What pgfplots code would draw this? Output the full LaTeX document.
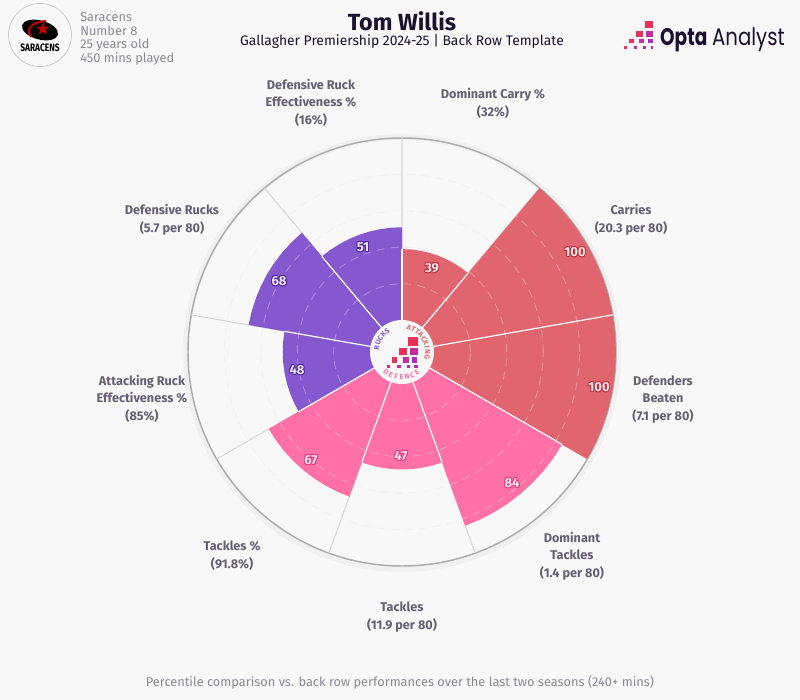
\documentclass[border=0pt]{standalone}
\usepackage{fontspec}
\usepackage{pgfplots}
\usepackage{pgfplotstable}
\pgfplotsset{compat=1.18}
\usepgfplotslibrary{polar}
\usetikzlibrary{shapes.geometric}
\setmainfont{Fira Sans}
\newfontfamily\logofont{Poppins}
\definecolor{bg}{HTML}{F8F8F8}
\definecolor{atk}{HTML}{E0656F}
\definecolor{ruck}{HTML}{8658CF}
\definecolor{def}{HTML}{FF70A6}
\definecolor{atkd}{HTML}{BE2F40}
\definecolor{ruckd}{HTML}{52279E}
\definecolor{defd}{HTML}{DD3A7E}
\definecolor{ink}{HTML}{1B102F}
\definecolor{lab}{HTML}{655F72}
\definecolor{sub}{HTML}{8C8896}
\definecolor{pa}{HTML}{E8305A}
\definecolor{pb}{HTML}{C62CA0}
\definecolor{pc}{HTML}{A82EC8}
% sweep of one slice: t = degrees from its start, f = 1 on the arc, 0 at the centre
\pgfplotstableread{
t f
0 0
0 1
5 1
10 1
15 1
20 1
25 1
30 1
35 1
40 1
40 0
}\steps
% percentile 0 sits on the edge of the centre disc, hence +17.5 on the radius
\newcommand{\slice}[3]{\addplot[fill=#3,draw=none] table[x expr=#1-\thisrow{t},y expr=\thisrow{f}*(#2+17.5)] {\steps};}
\newcommand{\sep}[2]{\addplot[white,line width=0.9pt] coordinates {(#1,0) (#1,#2+17.5)};}
\newcommand{\sz}[1]{\fontsize{#1}{#1}\selectfont}
% #1,#2 = baseline of the last line
\newcommand{\metric}[3]{\node[align=center,text=lab,font=\fontsize{9.5}{13}\selectfont\bfseries,inner sep=0pt,anchor=base] at (#1,#2) {#3};}
\newcommand{\val}[4]{%
  \foreach \dx/\dy in {-.9/0,.9/0,0/-.9,0/.9,-.7/-.7,.7/-.7,-.7/.7,.7/.7}
    \node[text=#4,font=\sz{9.8}\bfseries,inner sep=0pt] at (#1+\dx,#2+\dy) {#3};
  \node[text=white!88!#4,font=\sz{9.8}\bfseries,inner sep=0pt] at (#1,#2) {#3};}
\newcommand{\px}[5]{\fill[#5] (#1,#2) rectangle (#3,#4);}
\pgfplotsset{chart/.style={
  at={(301.5pt,-264pt)},anchor=center,scale only axis,width=321pt,height=321pt,
  xmin=0,xmax=360,ymin=0,ymax=117.5,clip=false,
  axis line style={draw=none},major tick length=0pt,
  xticklabels=\empty,yticklabels=\empty,
  ytick={37.5,57.5,77.5,97.5},ymajorgrids}}
\begin{document}
\begin{tikzpicture}[x=0.75pt,y=-0.75pt]
\useasboundingbox (0,0) rectangle (800,700);
\fill[bg] (0,0) rectangle (800,700);
% outer ring
\draw[line width=4.5pt,black!6] (402,353) circle[radius=216];
\draw[line width=1.1pt,black!32] (402,352) circle[radius=214];
\begin{polaraxis}[chart,
  xtick={10,50,90,130,170,210,250,290,330},xmajorgrids,
  x grid style={black!16,line width=0.8pt},
  y grid style={black!7,line width=0.6pt,dash pattern=on 6pt off 4.5pt}]
\end{polaraxis}
\begin{polaraxis}[chart,axis on top,xtick=\empty,
  y grid style={white,opacity=0.3,line width=0.7pt,dash pattern=on 6pt off 4.5pt}]
\slice{90}{39}{atk}
\slice{50}{100}{atk}
\slice{370}{100}{atk}
\slice{330}{84}{def}
\slice{290}{47}{def}
\slice{250}{67}{def}
\slice{210}{48}{ruck}
\slice{170}{68}{ruck}
\slice{130}{51}{ruck}
\sep{90}{39}\sep{50}{39}\sep{10}{100}\sep{330}{84}\sep{290}{47}
\sep{250}{47}\sep{210}{48}\sep{170}{48}\sep{130}{51}
\end{polaraxis}
% centre disc
\fill[bg] (402,352) circle[radius=32];
\foreach \c/\a in {R/170,U/159,C/148,K/137,S/126}
  \node[text=ruck,font=\sz{5.4}\bfseries,inner sep=0pt,rotate=\a-90] at ({402+25.5*cos(\a)},{352-25.5*sin(\a)}) {\c};
\foreach \c/\a in {A/74,T/63.4,T/52.8,A/42.2,C/31.6,K/21,I/10.4,N/-0.2,G/-10.8}
  \node[text=atk,font=\sz{5.4}\bfseries,inner sep=0pt,rotate=\a-90] at ({402+25.5*cos(\a)},{352-25.5*sin(\a)}) {\c};
\foreach \c/\a in {D/232,E/244.3,F/256.6,E/269,N/281.4,C/293.7,E/306}
  \node[text=def,font=\sz{5.4}\bfseries,inner sep=0pt,rotate=\a+90] at ({402+25.5*cos(\a)},{352-25.5*sin(\a)}) {\c};
\px{408.3}{336.7}{417.7}{345.7}{pa}
\px{399.3}{348.3}{407.3}{355}{pa}
\px{410}{348.3}{417.7}{355}{pb}
\px{391.7}{357.3}{397.3}{362.7}{pa}
\px{402.7}{357.3}{408.7}{362.7}{pb}
\px{411.7}{357.3}{417.3}{362.7}{pc}
\px{386.7}{365}{390}{367.7}{pa}
\px{397.3}{365}{401}{367.7}{pb}
\px{406.7}{365}{410}{367.7}{pc}
\px{414}{365}{417.7}{367.7}{pc}
% value labels
\val{432}{268}{39}{atkd}
\val{575}{252}{100}{atkd}
\val{599}{387}{100}{atkd}
\val{512}{483}{84}{defd}
\val{401}{456}{47}{defd}
\val{311}{460}{67}{defd}
\val{297}{370}{48}{ruckd}
\val{279}{281}{68}{ruckd}
\val{363}{247}{51}{ruckd}
% metric labels
\metric{493}{116}{Dominant Carry \%\\(32\%)}
\metric{631}{232}{Carries\\(20.3 per 80)}
\metric{663}{420}{Defenders\\Beaten\\(7.1 per 80)}
\metric{572}{577}{Dominant\\Tackles\\(1.4 per 80)}
\metric{402}{629}{Tackles\\(11.9 per 80)}
\metric{232}{568}{Tackles \%\\(91.8\%)}
\metric{142}{420}{Attacking Ruck\\Effectiveness \%\\(85\%)}
\metric{172}{232}{Defensive Rucks\\(5.7 per 80)}
\metric{311}{124}{Defensive Ruck\\Effectiveness \%\\(16\%)}
% header
\node[text=ink,font=\sz{17.5}\bfseries,inner sep=0pt] at (402,21) {Tom Willis};
\node[text=ink,font=\sz{10.4},inner sep=0pt] at (402,41) {Gallagher Premiership 2024-25 | Back Row Template};
\node[text=sub,font=\sz{9.6},inner sep=0pt,anchor=west] at (80,17) {Saracens};
\node[text=sub,font=\sz{9.6},inner sep=0pt,anchor=west] at (80,31) {Number 8};
\node[text=sub,font=\sz{9.6},inner sep=0pt,anchor=west] at (80,45) {25 years old};
\node[text=sub,font=\sz{9.6},inner sep=0pt,anchor=west] at (80,59) {450 mins played};
\node[text=sub,font=\sz{9.6},inner sep=0pt] at (400,682) {Percentile comparison vs. back row performances over the last two seasons (240+ mins)};
% club crest
\draw[black!20,line width=0.6pt,fill=bg] (40,35) circle[radius=31.5];
\fill[black,rotate around={-15:(40,30)}] (40,30) ellipse[x radius=18.5,y radius=9.5];
\draw[red!75!black,line width=1.5pt] (31,37) .. controls (25,28) and (33,22) .. (46,21);
\node[star,star points=5,star point ratio=2.4,fill=red!75!black,inner sep=0pt,minimum size=10pt] at (43,29) {};
\node[text=black,font=\sz{7}\bfseries,inner sep=0pt,xscale=0.9,yscale=1.15] at (40,48) {SARACENS};
% Opta Analyst logo
\px{645}{20.7}{652.7}{28.3}{pa}
\px{636}{30.7}{642.7}{36.7}{pa}
\px{646}{30.7}{652.7}{36.7}{pb}
\px{629.3}{39.3}{634}{43.3}{pa}
\px{639.3}{39.3}{644}{43.3}{pb}
\px{648.3}{39.3}{652.7}{43.3}{pc}
\px{624}{46}{626.7}{48.7}{pa}
\px{634}{46}{636.7}{48.7}{pb}
\px{643.3}{46}{646}{48.7}{pc}
\px{650.7}{46}{653.3}{48.7}{pc}
\node[text=ink,font=\logofont\sz{18}\bfseries,inner sep=0pt,anchor=base west,xscale=0.77] at (660,45) {Opta};
\node[text=ink,font=\logofont\sz{18},inner sep=0pt,anchor=base west,xscale=0.82] at (712,45) {Analyst};
\end{tikzpicture}
\end{document}
